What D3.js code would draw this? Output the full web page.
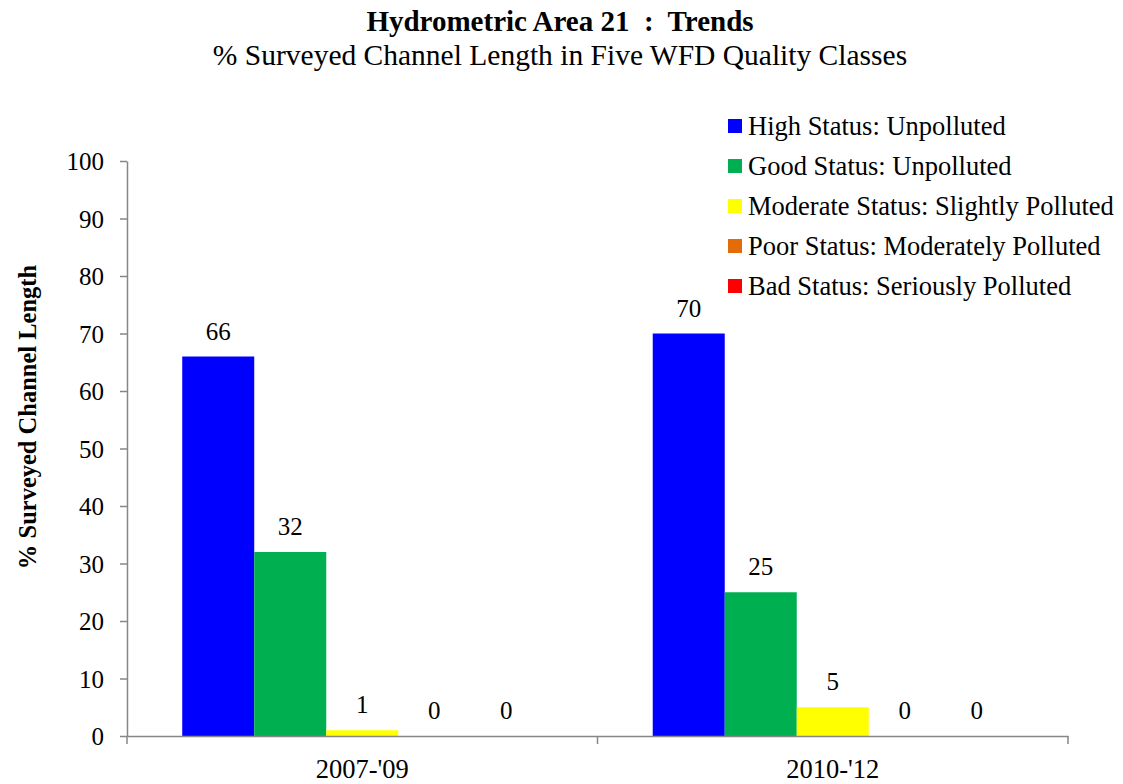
<!DOCTYPE html>
<html>
<head>
<meta charset="utf-8">
<script src="https://cdn.jsdelivr.net/npm/d3@7"></script>
<style>
  body { margin: 0; background: #fff; }
  text { font-family: "Liberation Serif", "Times New Roman", serif; fill: #000; }
</style>
</head>
<body>
<script>
(function(){

    //chart data
    var periods = ["2007-'09", "2010-'12"];
    var classes = [
        "High Status: Unpolluted",
        "Good Status: Unpolluted",
        "Moderate Status: Slightly Polluted",
        "Poor Status: Moderately Polluted",
        "Bad Status: Seriously Polluted"
    ];
    var classColors = ["#0000FF", "#00B050", "#FFFF00", "#E36C09", "#FF0000"];
    var values2007 = [66, 32, 1, 0, 0];
    var values2010 = [70, 25, 5, 0, 0];
    var yTicks = [0, 10, 20, 30, 40, 50, 60, 70, 80, 90, 100];

    var title = "Hydrometric Area 21  :  Trends";
    var subtitle = "% Surveyed Channel Length in Five WFD Quality Classes";
    var yTitle = "% Surveyed Channel Length";

    window.onload = function(){
        setChart();
    };

    function setChart(){
        var width = 1123,
            height = 784;

        var svg = d3.select("body")
            .append("svg")
            .attr("width", width)
            .attr("height", height);

        //table built from the arrays
        var rows = periods.map(function(p, i){
            var vals = i == 0 ? values2007 : values2010;
            return { period: p, values: vals };
        });

        var x0 = d3.scaleBand()
            .domain(periods)
            .range([127, 1068]);

        var x1 = d3.scaleBand()
            .domain(classes)
            .range([0, x0.bandwidth()])
            .paddingOuter(0.767);

        var y = d3.scaleLinear()
            .domain([0, 100])
            .range([736, 161]);

        var color = d3.scaleOrdinal()
            .domain(classes)
            .range(classColors);

        //y axis
        var yAxis = svg.append("g")
            .attr("transform", "translate(127,0)")
            .call(d3.axisLeft(y).tickValues(yTicks).tickSize(7).tickSizeOuter(0).tickPadding(16));
        yAxis.selectAll("path, line").attr("stroke", "#868686").attr("stroke-width", 1.5);
        yAxis.selectAll("text")
            .style("font-family", "Liberation Serif")
            .style("font-size", "25px")
            .attr("dy", "0.34em");

        //bars
        var groups = svg.selectAll(".group")
            .data(rows)
            .enter()
            .append("g")
            .attr("class", "group")
            .attr("transform", function(d){ return "translate(" + x0(d.period) + ",0)"; });

        groups.selectAll("rect")
            .data(function(d){
                return d.values.map(function(v, i){ return { key: classes[i], value: v }; });
            })
            .enter()
            .append("rect")
            .attr("x", function(d){ return x1(d.key); })
            .attr("width", x1.bandwidth())
            .attr("y", function(d){ return y(d.value); })
            .attr("height", function(d){ return y(0) - y(d.value); })
            .style("fill", function(d){ return color(d.key); });

        groups.selectAll(".numbers")
            .data(function(d){
                return d.values.map(function(v, i){ return { key: classes[i], value: v }; });
            })
            .enter()
            .append("text")
            .attr("class", "numbers")
            .attr("text-anchor", "middle")
            .attr("x", function(d){ return x1(d.key) + x1.bandwidth() / 2; })
            .attr("y", function(d){ return y(d.value) - 17; })
            .style("font-size", "25px")
            .text(function(d){ return d.value; });

        //x axis
        var xAxis = svg.append("g")
            .attr("transform", "translate(0,736)")
            .call(d3.axisBottom(x0).tickSize(0).tickSizeOuter(0).tickPadding(0));
        xAxis.select("path").attr("stroke", "#868686").attr("stroke-width", 1.5);
        xAxis.selectAll("text")
            .style("font-family", "Liberation Serif")
            .style("font-size", "26.5px")
            .attr("y", 42)
            .attr("dy", 0);
        var edges = periods.map(function(p){ return x0(p); });
        edges.push(x0.range()[1]);
        xAxis.selectAll(".edge")
            .data(edges)
            .enter()
            .append("line")
            .attr("class", "edge")
            .attr("x1", function(d){ return d; })
            .attr("x2", function(d){ return d; })
            .attr("y1", 0)
            .attr("y2", 8)
            .attr("stroke", "#868686")
            .attr("stroke-width", 1.5);

        //titles
        svg.append("text")
            .attr("x", 560)
            .attr("y", 31)
            .attr("text-anchor", "middle")
            .attr("xml:space", "preserve")
            .style("white-space", "pre")
            .style("font-size", "29px")
            .style("font-weight", "bold")
            .text(title);
        svg.append("text")
            .attr("x", 560)
            .attr("y", 65)
            .attr("text-anchor", "middle")
            .style("font-size", "29.5px")
            .text(subtitle);

        svg.append("text")
            .attr("transform", "translate(36,417) rotate(-90)")
            .attr("text-anchor", "middle")
            .style("font-size", "24.5px")
            .style("font-weight", "bold")
            .text(yTitle);

        //legend
        var legend = svg.selectAll(".legend")
            .data(classes)
            .enter()
            .append("g")
            .attr("class", "legend")
            .attr("transform", function(d, i){ return "translate(728," + (126 + i * 40) + ")"; });
        legend.append("rect")
            .attr("x", 0)
            .attr("y", -7)
            .attr("width", 14)
            .attr("height", 14)
            .style("fill", function(d){ return color(d); });
        legend.append("text")
            .attr("x", 20)
            .attr("y", 9)
            .style("font-size", "26.5px")
            .text(function(d){ return d; });
    };

})();
</script>
</body>
</html>
